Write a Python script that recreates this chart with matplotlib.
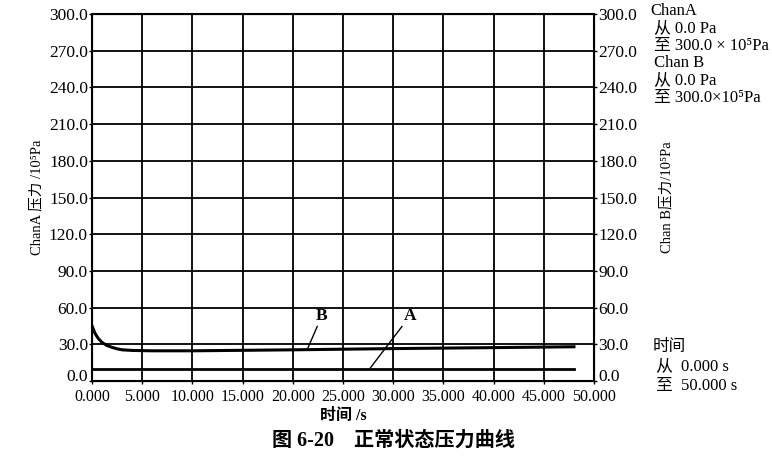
import matplotlib
matplotlib.use('Agg')
import matplotlib.pyplot as plt

plt.rcParams['font.family'] = ['Liberation Serif', 'Noto Sans CJK SC']

# data
t_b = [0.0, 0.3, 0.6, 1.0, 1.5, 2.0, 2.5, 3.0, 4.0, 6.0, 10.0, 20.0, 30.0, 40.0, 48.0]
p_b = [45.0, 39.0, 35.0, 31.5, 29.0, 27.5, 26.3, 25.5, 25.0, 24.7, 24.7, 25.5, 26.5, 27.3, 28.0]
t_a = [0.0, 10.0, 20.0, 30.0, 40.0, 48.0]
p_a = [10.0, 10.0, 10.0, 10.0, 10.0, 10.0]

x_ticks = [0, 5, 10, 15, 20, 25, 30, 35, 40, 45, 50]
y_ticks = [0, 30, 60, 90, 120, 150, 180, 210, 240, 270, 300]

fig = plt.figure(figsize=(7.72, 4.61), dpi=100)
ax = fig.add_axes([0.1192, 0.1735, 0.6503, 0.7961])

ax.plot(t_b, p_b, color='black', lw=2.2)
ax.plot(t_a, p_a, color='black', lw=2.0)

ax.set_xlim(0, 50)
ax.set_ylim(0, 300)
ax.set_xticks(x_ticks)
ax.set_xticklabels(['%.3f' % v for v in x_ticks])
ax.set_yticks(y_ticks)
ax.set_yticklabels(['%.1f' % v for v in y_ticks])
ax.grid(True, color='black', lw=1.3)
ax.tick_params(axis='y', length=2, width=1, labelsize=12.5, pad=1)
ax.tick_params(axis='x', length=2, width=1, labelsize=11.5, pad=4)
for s in ax.spines.values():
    s.set_linewidth(1.5)

ax2 = ax.twinx()
ax2.set_ylim(0, 300)
ax2.set_yticks(y_ticks)
ax2.set_yticklabels(['%.1f' % v for v in y_ticks])
ax2.tick_params(length=2, width=1, labelsize=12.5, pad=1)

# 0.0 labels sit on the bottom edge, clear of the x labels
ax.get_yticklabels()[0].set_va('baseline')
ax2.get_yticklabels()[0].set_va('baseline')

ax.set_ylabel('ChanA 压力 /10⁵Pa', fontsize=10.5, labelpad=4)
ax2.set_ylabel('Chan B压力/10⁵Pa', fontsize=10.5, rotation=90, labelpad=16)
ax.set_xlabel('时间 /s', fontsize=11.5, fontweight='bold', labelpad=2)

# curve labels with leader lines
ax.annotate('B', xy=(21.5, 27), xytext=(22.9, 47), fontsize=12.5, fontweight='bold',
            ha='center', va='bottom',
            arrowprops=dict(arrowstyle='-', color='black', lw=1.0, shrinkA=0, shrinkB=0))
ax.annotate('A', xy=(27.7, 10.5), xytext=(31.7, 47), fontsize=12.5, fontweight='bold',
            ha='center', va='bottom',
            arrowprops=dict(arrowstyle='-', color='black', lw=1.0, shrinkA=0, shrinkB=0))

fig.text(0.842, 0.994, 'ChanA\n 从 0.0 Pa\n 至 300.0 × 10⁵Pa\n Chan B\n 从 0.0 Pa\n 至 300.0×10⁵Pa',
         fontsize=12, va='top', ha='left', linespacing=1.12)
fig.text(0.845, 0.265, '时间\n 从  0.000 s\n 至  50.000 s',
         fontsize=12, va='top', ha='left', linespacing=1.3)

fig.text(0.51, 0.045, '图 6-20    正常状态压力曲线', fontsize=14.5, fontweight='bold',
         ha='center', va='center')

fig.savefig('out.png', dpi=100)
